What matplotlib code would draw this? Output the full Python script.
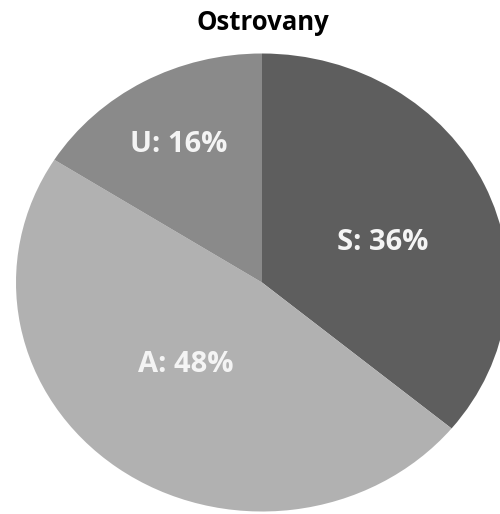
import matplotlib.pyplot as plt

# Ostrovany shares
labels = ["S", "A", "U"]
shares = [36, 48, 16]
colors = ["#5e5e5e", "#b1b1b1", "#8a8a8a"]
title = "Ostrovany"

plt.rcParams["font.family"] = ["Open Sans", "DejaVu Sans"]

W, H = 500, 514
fig = plt.figure(figsize=(W / 100, H / 100), dpi=100)
ax = fig.add_axes([0, 0, 1, 1])

ax.pie(shares, colors=colors, startangle=90, counterclock=False,
       radius=1, center=(0, 0), wedgeprops=dict(linewidth=0))

# pie is slightly wider than tall in the reference
cx, cy, rx, ry = 262, 282.5, 246, 229
ax.set_aspect("auto")
ax.set_xlim(-cx / rx, (W - cx) / rx)
ax.set_ylim(-(H - cy) / ry, cy / ry)
ax.axis("off")

# label positions in pixels (from top-left)
label_pos = [(383, 242), (186, 364), (179, 144)]
for lab, val, (px, py) in zip(labels, shares, label_pos):
    ax.text(px / W, 1 - py / H, f"{lab}: {val}%", transform=ax.transAxes,
            ha="center", va="center", color="#f4f4f4",
            fontsize=21, fontweight="bold")

ax.text(263 / W, 1 - 23 / H, title, transform=ax.transAxes,
        ha="center", va="center", color="black",
        fontsize=18.5, fontweight="bold")

fig.savefig("out.png", dpi=100, facecolor="white")
